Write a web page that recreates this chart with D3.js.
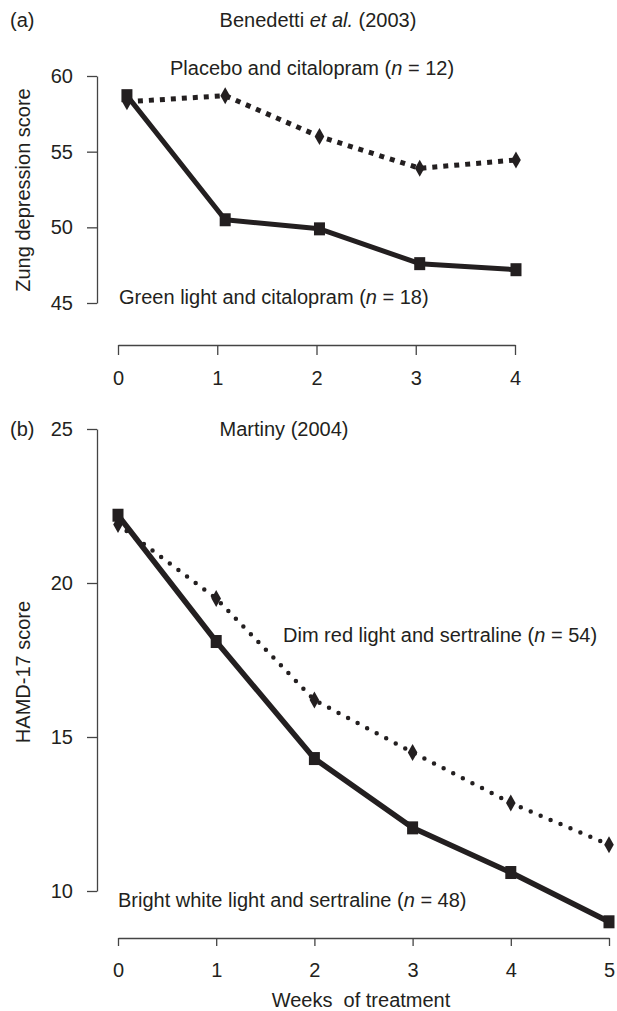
<!DOCTYPE html>
<html>
<head>
<meta charset="utf-8">
<script src="https://cdnjs.cloudflare.com/ajax/libs/d3/7.8.5/d3.min.js"></script>
<style>
    body { margin: 0; background: #fff; }
    svg text { font-family: "Liberation Sans", Arial, sans-serif; font-size: 20px; fill: #231f20; }
    .axis path, .axis line { stroke: #444; stroke-width: 1.3; fill: none; }
    .axis text { font-size: 20px; fill: #231f20; }
</style>
</head>
<body>
<script>
// panel (a) Benedetti et al. (2003)
var weeksA = [0.09, 1.08, 2.03, 3.04, 4.01];
var placeboA = [58.3, 58.7, 56.0, 53.9, 54.45];
var greenA = [58.7, 50.5, 49.9, 47.6, 47.2];
var xTicksA = [0, 1, 2, 3, 4];
var yTicksA = [45, 50, 55, 60];

// panel (b) Martiny (2004)
var weeksB = [0, 1, 2, 3, 4, 5];
var dimRedB = [21.9, 19.5, 16.2, 14.5, 12.86, 11.5];
var brightB = [22.2, 18.1, 14.3, 12.05, 10.6, 9.0];
var xTicksB = [0, 1, 2, 3, 4, 5];
var yTicksB = [10, 15, 20, 25];

var ink = '#231f20';

var svg = d3.select("body").append("svg")
    .attr("width", 617)
    .attr("height", 1011);

// scales
var xA = d3.scaleLinear().domain([0, 4]).range([118, 515]);
var yA = d3.scaleLinear().domain([45, 60]).range([303, 76]);
var xB = d3.scaleLinear().domain([0, 5]).range([118, 609]);
var yB = d3.scaleLinear().domain([10, 25]).range([891, 429]);

var fmt = d3.format('d');

// axes
svg.append('g')
    .attr('class', 'axis')
    .attr('transform', 'translate(97,0)')
    .call(d3.axisLeft(yA).tickValues(yTicksA).tickFormat(fmt).tickSize(10).tickSizeOuter(0).tickPadding(14));

svg.append('g')
    .attr('class', 'axis')
    .attr('transform', 'translate(0,345)')
    .call(d3.axisBottom(xA).tickValues(xTicksA).tickFormat(fmt).tickSize(10).tickSizeOuter(0).tickPadding(16));

svg.append('g')
    .attr('class', 'axis')
    .attr('transform', 'translate(97,0)')
    .call(d3.axisLeft(yB).tickValues(yTicksB).tickFormat(fmt).tickSize(10).tickSizeOuter(0).tickPadding(14));

svg.append('g')
    .attr('class', 'axis')
    .attr('transform', 'translate(0,938)')
    .call(d3.axisBottom(xB).tickValues(xTicksB).tickFormat(fmt).tickSize(8).tickSizeOuter(0).tickPadding(17));

// helpers
function series(weeks, vals) {
    return weeks.map((w, i) => ({ w: w, v: vals[i] }));
}

function drawLine(data, x, y, dash, width, cap) {
    svg.append('path')
        .datum(data)
        .attr('fill', 'none')
        .attr('stroke', ink)
        .attr('stroke-width', width)
        .attr('stroke-dasharray', dash)
        .attr('stroke-linecap', cap)
        .attr('stroke-linejoin', 'round')
        .attr('d', d3.line().x(e => x(e.w)).y(e => y(e.v)));
}

var diamond = 'M0,-8.5L4.8,0L0,8.5L-4.8,0Z';

function drawDiamonds(data, x, y) {
    svg.selectAll(null)
        .data(data)
        .enter()
        .append('path')
        .attr('d', diamond)
        .attr('fill', ink)
        .attr('transform', e => `translate(${x(e.w)},${y(e.v)})`);
}

function drawSquares(data, x, y) {
    svg.selectAll(null)
        .data(data)
        .enter()
        .append('rect')
        .attr('x', e => x(e.w) - 5.5)
        .attr('y', e => y(e.v) - 6.5)
        .attr('width', 11)
        .attr('height', 13)
        .attr('fill', ink);
}

// panel (a)
var plA = series(weeksA, placeboA);
var grA = series(weeksA, greenA);
drawLine(plA, xA, yA, '5,6', 5, 'butt');
drawDiamonds(plA, xA, yA);
drawLine(grA, xA, yA, null, 5, 'butt');
drawSquares(grA, xA, yA);

// panel (b)
var drB = series(weeksB, dimRedB);
var brB = series(weeksB, brightB);
drawLine(drB, xB, yB, '0,10.8', 4.5, 'round');
drawDiamonds(drB, xB, yB);
drawLine(brB, xB, yB, null, 5.5, 'butt');
drawSquares(brB, xB, yB);

// texts
function label(x, y, parts, anchor) {
    var t = svg.append('text')
        .attr('x', x)
        .attr('y', y)
        .attr('dominant-baseline', 'central')
        .style('text-anchor', anchor || 'start');
    parts.forEach(p => {
        t.append('tspan').style('font-style', p[1] ? 'italic' : 'normal').text(p[0]);
    });
    return t;
}

label(10, 20, [['(a)']]);
label(318, 20, [['Benedetti '], ['et al.', true], [' (2003)']], 'middle');
label(170, 68, [['Placebo and citalopram ('], ['n', true], [' = 12)']]);
label(119, 297, [['Green light and citalopram  ('], ['n', true], [' = 18)']]);

label(10, 429, [['(b)']]);
label(284, 429, [['Martiny (2004)']], 'middle');
label(283, 635, [['Dim red light and sertraline ('], ['n', true], [' = 54)']]);
label(118, 900, [['Bright white light and sertraline ('], ['n', true], [' = 48)']]);

label(361, 1000, [['Weeks\u00a0 of treatment']], 'middle');

svg.append('text')
    .attr('transform', 'translate(23,190) rotate(-90)')
    .attr('dominant-baseline', 'central')
    .style('text-anchor', 'middle')
    .text('Zung depression score');

svg.append('text')
    .attr('transform', 'translate(23,672) rotate(-90)')
    .attr('dominant-baseline', 'central')
    .style('text-anchor', 'middle')
    .text('HAMD-17 score');
</script>
</body>
</html>
